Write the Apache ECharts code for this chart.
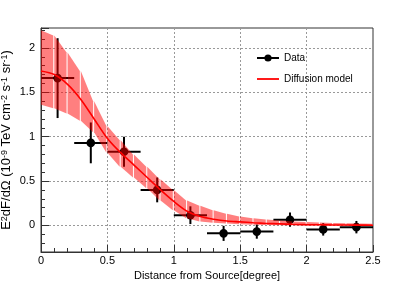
<!DOCTYPE html>
<html><head><meta charset="utf-8">
<script src="https://cdn.jsdelivr.net/npm/echarts@6/dist/echarts.min.js"></script>
<style>html,body{margin:0;padding:0;background:#fff}#c{width:415px;height:281px}</style>
</head><body><div id="c"></div>
<script>
// Data points (bin centres, values, errors)
const dataX = [0.125, 0.375, 0.625, 0.875, 1.125, 1.375, 1.625, 1.875, 2.125, 2.375];
const dataY = [1.66, 0.93, 0.83, 0.40, 0.115, -0.09, -0.07, 0.064, -0.045, -0.02];
const dataXErr = [0.125, 0.125, 0.125, 0.125, 0.125, 0.125, 0.125, 0.125, 0.125, 0.125];
const dataYErr = [0.45, 0.23, 0.17, 0.14, 0.10, 0.085, 0.08, 0.08, 0.07, 0.07];

// Diffusion model curve and its band
const modelX = [0, 0.1, 0.2, 0.3, 0.4, 0.5, 0.6, 0.7, 0.8, 0.9, 1.0, 1.1, 1.2, 1.3, 1.4, 1.5, 1.6, 1.7, 1.8, 1.9, 2.0, 2.1, 2.2, 2.3, 2.4, 2.5];
const modelY = [1.74, 1.70, 1.59, 1.42, 1.20, 0.98, 0.82, 0.68, 0.54, 0.40, 0.27, 0.16, 0.10, 0.07, 0.05, 0.04, 0.03, 0.022, 0.017, 0.012, 0.009, 0.007, 0.005, 0.004, 0.003, 0.002];
const bandUpper = [2.20, 2.14, 1.95, 1.74, 1.40, 1.12, 0.96, 0.80, 0.66, 0.52, 0.40, 0.28, 0.22, 0.17, 0.13, 0.10, 0.08, 0.065, 0.055, 0.045, 0.038, 0.032, 0.027, 0.023, 0.020, 0.018];
const bandLower = [1.36, 1.32, 1.26, 1.18, 1.05, 0.82, 0.66, 0.54, 0.42, 0.28, 0.17, 0.08, 0.045, 0.03, 0.02, 0.012, 0.006, 0.003, 0.001, 0, 0, 0, 0, 0, 0, 0];

const FONT = 'Liberation Sans';

const errData = dataX.map((x, i) => [x, dataY[i], dataXErr[i], dataYErr[i]]);
const bandData = [];
for (let i = 0; i < modelX.length - 1; i++) {
  bandData.push([modelX[i], modelX[i + 1], bandLower[i], bandUpper[i], bandLower[i + 1], bandUpper[i + 1]]);
}
const modelData = modelX.map((x, i) => [x, modelY[i]]);

const chart = echarts.init(document.getElementById('c'), null, {renderer: 'canvas'});
chart.setOption({
  animation: false,
  backgroundColor: '#fff',
  grid: {left: 41, right: 42, top: 28, bottom: 29, containLabel: false, outerBoundsMode: 'none',
    show: true, borderColor: '#333', borderWidth: 1, backgroundColor: 'transparent'},
  legend: {
    orient: 'vertical', left: 251, top: 48, itemGap: 11, itemWidth: 22, itemHeight: 9,
    textStyle: {fontFamily: FONT, fontSize: 10, color: '#000'},
    data: [
      {name: 'Data'},
      {name: 'Diffusion model', icon: 'path://M0,0L22,0L22,1.8L0,1.8Z', itemStyle: {color: '#ff0000', borderWidth: 0}}
    ],
    selectedMode: false
  },
  xAxis: {
    type: 'value', min: 0, max: 2.5, interval: 0.5,
    name: 'Distance from Source[degree]', nameLocation: 'middle', nameGap: 18, nameMoveOverlap: false,
    nameTextStyle: {fontFamily: FONT, fontSize: 11, color: '#000'},
    axisLine: {show: true, onZero: false, lineStyle: {color: '#333', width: 1}},
    axisTick: {show: true, inside: true, length: 7, lineStyle: {color: '#333'}},
    minorTick: {show: true, splitNumber: 5, length: 4, lineStyle: {color: '#333'}},
    axisLabel: {fontFamily: FONT, fontSize: 11, color: '#000', margin: 3,
      formatter: v => (v === 0 ? '0' : String(v))},
    splitLine: {show: true, lineStyle: {color: '#999', type: [2, 2], width: 1}}
  },
  yAxis: {
    type: 'value', min: -0.3, max: 2.225, splitNumber: 5,
    name: 'E{s|2}dF/dΩ (10{s|-9} TeV cm{s|-2} s{s|-1} sr{s|-1})',
    nameLocation: 'middle', nameGap: 28, nameRotate: 90, nameMoveOverlap: false,
    nameTextStyle: {fontFamily: FONT, fontSize: 13, color: '#000',
      rich: {s: {fontFamily: FONT, fontSize: 9, verticalAlign: 'top', color: '#000'}}},
    axisLine: {show: true, onZero: false, lineStyle: {color: '#333', width: 1}},
    axisTick: {show: true, inside: true, length: 8, lineStyle: {color: '#333'}},
    minorTick: {show: true, splitNumber: 5, length: 4, lineStyle: {color: '#333'}},
    axisLabel: {fontFamily: FONT, fontSize: 11, color: '#000', margin: 6, showMinLabel: false, showMaxLabel: false},
    splitLine: {show: true, lineStyle: {color: '#999', type: [2, 2], width: 1}}
  },
  series: [
    {
      name: 'Data', type: 'line', data: [], symbol: 'circle', symbolSize: 8,
      itemStyle: {color: '#000'}, lineStyle: {color: '#000', width: 2}
    },
    {
      type: 'custom', z: 2, clip: true, data: errData,
      encode: {x: 0, y: 1},
      renderItem: function (params, api) {
        const x = api.value(0), y = api.value(1), xe = api.value(2), ye = api.value(3);
        const c = api.coord([x, y]);
        const l = api.coord([x - xe, y]);
        const r = api.coord([x + xe, y]);
        const t = api.coord([x, y + ye]);
        const b = api.coord([x, y - ye]);
        const st = {stroke: '#000', lineWidth: 2};
        return {type: 'group', children: [
          {type: 'line', shape: {x1: l[0], y1: l[1], x2: r[0], y2: r[1]}, style: st},
          {type: 'line', shape: {x1: t[0], y1: t[1], x2: b[0], y2: b[1]}, style: st},
          {type: 'circle', shape: {cx: c[0], cy: c[1], r: 4.3}, style: {fill: '#000'}}
        ]};
      }
    },
    {
      type: 'custom', z: 3, clip: true, data: bandData,
      encode: {x: [0, 1], y: [2, 3]},
      renderItem: function (params, api) {
        const a = api.coord([api.value(0), api.value(2)]);
        const b = api.coord([api.value(0), api.value(3)]);
        const c = api.coord([api.value(1), api.value(5)]);
        const d = api.coord([api.value(1), api.value(4)]);
        return {type: 'polygon', shape: {points: [a, b, [c[0] - 1, c[1]], [d[0] - 1, d[1]]]},
          style: {fill: 'rgba(255,0,0,0.5)'}};
      }
    },
    {
      name: 'Diffusion model', type: 'line', z: 4, data: modelData, smooth: 0.3,
      symbol: 'none', itemStyle: {color: '#ff0000'}, lineStyle: {color: '#ff0000', width: 1.6}
    }
  ]
});
</script>
</body></html>
